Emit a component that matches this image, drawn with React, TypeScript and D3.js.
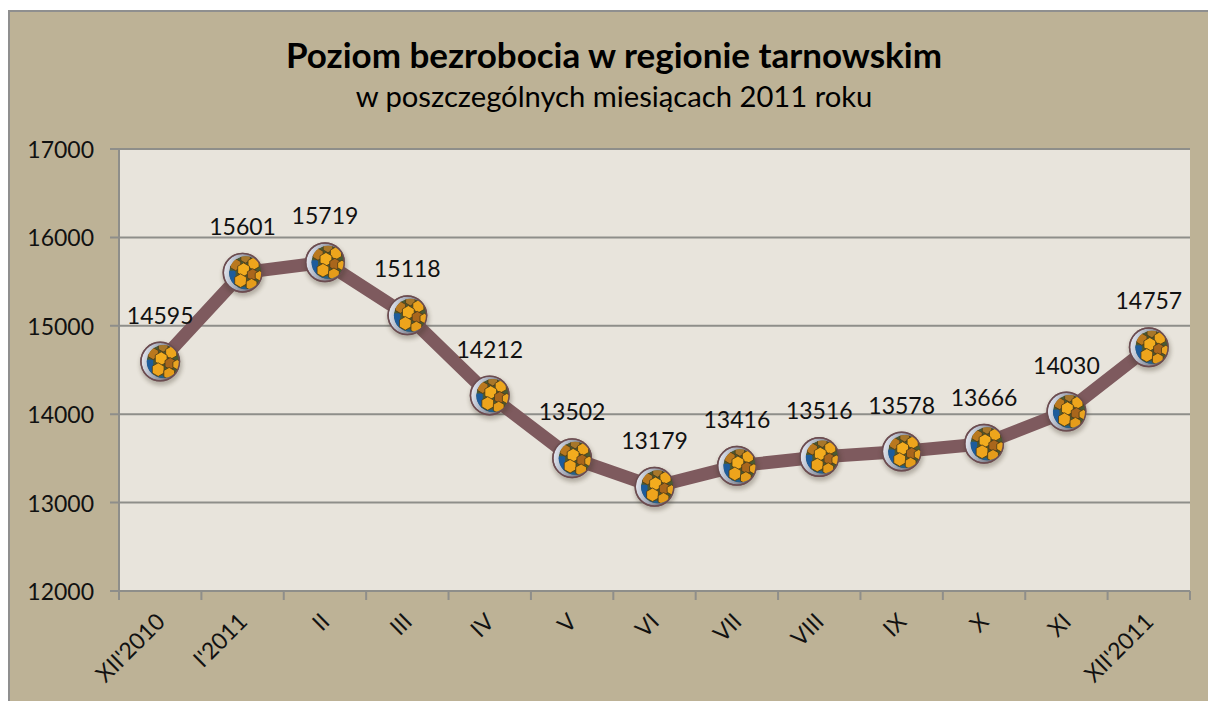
import React from "react";
import * as d3 from "d3";

const categories = ["XII'2010", "I'2011", "II", "III", "IV", "V", "VI", "VII", "VIII", "IX", "X", "XI", "XII'2011"];
const values = [14595, 15601, 15719, 15118, 14212, 13502, 13179, 13416, 13516, 13578, 13666, 14030, 14757];
const yTicks = [12000, 13000, 14000, 15000, 16000, 17000];
const title = "Poziom bezrobocia w regionie tarnowskim";
const subtitle = "w poszczególnych miesiącach 2011 roku";

const font = "Lato, 'Open Sans', sans-serif";
const W = 1208, H = 701;
const plot = { l: 119, r: 1190, t: 149, b: 591 };

const patches: [number, number, number, string][] = [
  [3, -15, 5.5, "#a8772a"], [-7, -8, 6, "#b9781e"], [11, -9, 6.4, "#eda51c"], [1, -3, 6.8, "#f3ac1e"],
  [10, 2, 6, "#a9661c"], [17, 3, 5, "#eaa420"], [-2, 8, 6.8, "#eea41c"], [9, 12, 6.2, "#e59c1a"],
];

function Ball({ x, y, id }: { x: number; y: number; id: string }) {
  return (
    <g transform={`translate(${x},${y})`}>
      <circle cx={1} cy={3} r={21} fill="#3a3020" opacity={0.3} filter="url(#blur)" />
      <circle r={20} fill="#7e5a5e" />
      <circle r={18.5} fill="url(#rim)" />
      <clipPath id={id}><circle cx={3} cy={0} r={16.5} /></clipPath>
      <g clipPath={`url(#${id})`}>
        <circle cx={3} r={16.5} fill="#4a5a34" />
        <rect x={-14} y={-2} width={7} height={18} fill="#1d5c9c" />
        <rect x={-6} y={14} width={22} height={8} fill="#24608c" />
        {patches.map(([px, py, r, c], i) => (
          <path
            key={i}
            d={d3.range(6).map((k) => {
              const a = (Math.PI / 3) * k + Math.PI / 6;
              return `${k ? "L" : "M"}${px + r * Math.cos(a)},${py + r * Math.sin(a)}`;
            }).join("") + "Z"}
            fill={c}
            stroke="#4a3a18"
            strokeWidth={0.8}
          />
        ))}
      </g>
      <circle r={19.3} fill="none" stroke="#6a4c50" strokeWidth={1.4} />
    </g>
  );
}

export default function App() {
  const y = d3.scaleLinear().domain([12000, 17000]).range([plot.b, plot.t]);
  const band = d3.scaleBand<string>().domain(categories).range([plot.l, plot.r]);
  const x = (c: string) => (band(c) as number) + band.bandwidth() / 2;
  const line = d3.line<number>().x((_, i) => x(categories[i])).y((d) => y(d));
  const edges = [...categories.map((c) => band(c) as number), plot.r];

  return (
    <svg width={W} height={H} style={{ position: "absolute", left: 0, top: 0, display: "block" }} fontFamily={font}>
      <defs>
        <filter id="blur" x="-30%" y="-30%" width="160%" height="160%"><feGaussianBlur stdDeviation={2} /></filter>
        <linearGradient id="rim" x1="0" x2="1" y1="0" y2="0.2">
          <stop offset="0" stopColor="#f2f2f6" />
          <stop offset="0.25" stopColor="#c4cbd8" />
          <stop offset="1" stopColor="#5a5a66" />
        </linearGradient>
      </defs>
      <rect x={9} y={11} width={W + 10} height={H + 10} fill="#bdb296" stroke="#8f8f8f" strokeWidth={2} />
      <rect x={plot.l} y={plot.t} width={plot.r - plot.l} height={plot.b - plot.t} fill="#e8e4dc" />
      {yTicks.map((t) => (
        <g key={t}>
          <line x1={plot.l - 9} x2={plot.r} y1={y(t)} y2={y(t)} stroke="#8e8e8a" strokeWidth={2} />
          <text x={94} y={y(t) + 1} dy="0.35em" textAnchor="end" fontSize={23} fill="#111">{t}</text>
        </g>
      ))}
      <line x1={plot.l} x2={plot.l} y1={plot.t} y2={plot.b + 9} stroke="#8e8e8a" strokeWidth={2} />
      {edges.map((e, i) => (
        <line key={i} x1={e} x2={e} y1={plot.b} y2={plot.b + 9} stroke="#8e8e8a" strokeWidth={2} />
      ))}
      {categories.map((c) => (
        <text
          key={c}
          transform={`translate(${x(c) + 2},${plot.b + 28}) rotate(-45)`}
          textAnchor="end"
          dominantBaseline="middle"
          fontSize={23}
          fill="#111"
        >{c}</text>
      ))}
      <path d={line(values) ?? ""} fill="none" stroke="#7e5a5e" strokeWidth={13} strokeLinejoin="round" />
      {values.map((v, i) => (
        <Ball key={i} x={x(categories[i])} y={y(v)} id={`ball${i}`} />
      ))}
      {values.map((v, i) => (
        <text key={i} x={x(categories[i])} y={y(v) - 46} dy="0.35em" textAnchor="middle" fontSize={23} fill="#111">{v}</text>
      ))}
      <text x={614} y={68} textAnchor="middle" fontSize={35} fontWeight={700} fill="#000">{title}</text>
      <text x={614} y={107} textAnchor="middle" fontSize={29.2} fill="#000">{subtitle}</text>
    </svg>
  );
}
